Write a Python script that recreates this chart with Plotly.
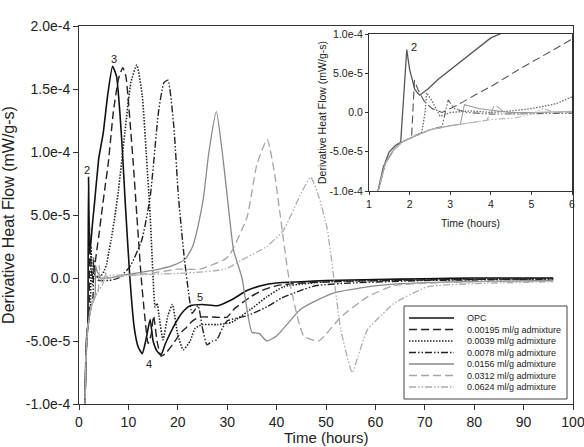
import plotly.graph_objects as go

# ---------------- data (values in units of 1e-4 mW/g-s) ----------------
series_names = ["OPC", "0.00195 ml/g admixture", "0.0039 ml/g admixture",
                "0.0078 ml/g admixture", "0.0156 ml/g admixture",
                "0.0312 ml/g admixture", "0.0624 ml/g admixture"]

opc_t = [1.2, 1.35, 1.5, 1.65, 1.78, 1.86, 1.93, 2.0, 2.13, 2.25, 2.45, 2.7, 2.9, 3.2, 3.5, 3.75, 4.0,
         4.9, 5.8, 6.8, 7.6, 8.3, 8.8, 9.3, 10.3, 11.2, 12.0, 12.8, 13.5, 14.4, 15.0, 15.8, 16.6,
         17.5, 19.5, 21.0, 22.5, 25.0, 28.0, 31.0, 34.0, 37.0, 40.0, 45.0, 50.0, 60.0, 70.0, 80.0, 96.0]
opc_v = [-1.05, -0.7, -0.5, -0.42, -0.38, 0.2, 0.8, 0.55, 0.29, 0.22, 0.3, 0.42, 0.5, 0.62, 0.75, 0.85, 0.95,
         1.15, 1.45, 1.68, 1.6, 1.3, 1.0, 0.64, 0.0, -0.4, -0.55, -0.6, -0.5, -0.33, -0.5, -0.58, -0.61,
         -0.52, -0.36, -0.27, -0.22, -0.21, -0.22, -0.17, -0.1, -0.06, -0.04, -0.03, -0.02, -0.012, -0.006, 0.0, 0.0]

a1_t = [1.2, 1.4, 1.6, 1.8, 2.0, 2.05, 2.12, 2.2, 2.35, 2.55, 2.8, 3.2, 3.6, 4.0, 4.6, 5.2, 5.95,
        6.96, 8.0, 8.86, 9.5, 10.0, 11.0, 11.7, 12.6, 13.3, 14.0, 14.6, 15.1, 15.8, 16.6, 17.5, 19.1,
        20.5, 21.8, 23.0, 24.5, 27.0, 30.0, 31.3, 34.7, 37.0, 40.1, 45.0, 55.0, 70.0, 96.0]
a1_v = [-1.05, -0.65, -0.48, -0.38, -0.33, -0.3, 0.41, 0.3, 0.15, 0.05, 0.0, 0.1, 0.22, 0.33, 0.52, 0.7, 0.92,
        1.32, 1.58, 1.67, 1.6, 1.4, 0.9, 0.5, 0.0, -0.3, -0.52, -0.45, -0.3, -0.5, -0.62, -0.6, -0.52,
        -0.44, -0.39, -0.34, -0.31, -0.31, -0.31, -0.25, -0.15, -0.1, -0.06, -0.04, -0.025, -0.015, -0.005]

a2_t = [1.2, 1.4, 1.6, 1.8, 2.0, 2.3, 2.38, 2.42, 2.55, 2.75, 3.0, 3.5, 4.0, 4.5, 5.0, 5.6, 6.0,
        6.5, 7.3, 8.0, 9.3, 10.5, 11.7, 12.8, 13.6, 14.4, 15.0, 15.4, 15.8, 16.2, 17.0, 18.0, 18.9,
        20.0, 21.1, 22.5, 23.5, 25.0, 28.0, 30.0, 31.0, 34.7, 38.0, 41.4, 50.0, 70.0, 96.0]
a2_v = [-1.05, -0.65, -0.48, -0.38, -0.33, -0.25, 0.0, 0.25, 0.15, -0.05, 0.0, 0.02, 0.0, 0.02, 0.05, 0.11, 0.2,
        0.3, 0.5, 0.7, 1.16, 1.55, 1.69, 1.45, 1.0, 0.5, 0.0, -0.23, -0.2, -0.3, -0.49, -0.3, -0.21,
        -0.45, -0.57, -0.5, -0.4, -0.37, -0.37, -0.36, -0.35, -0.25, -0.15, -0.07, -0.03, -0.015, -0.005]

a3_t = [1.2, 1.4, 1.6, 1.8, 2.0, 2.5, 2.8, 2.95, 3.1, 3.4, 4.0, 5.0, 6.0, 8.0, 10.3, 12.7, 14.4,
        16.1, 17.2, 18.0, 19.2, 20.1, 21.2, 22.2, 22.9, 24.1, 25.0, 25.9, 27.0, 27.9, 29.0, 30.0,
        34.0, 38.0, 41.0, 44.8, 48.0, 55.0, 70.0, 96.0]
a3_v = [-1.05, -0.65, -0.48, -0.38, -0.33, -0.22, -0.18, 0.16, 0.05, 0.0, -0.02, -0.02, -0.02, 0.0, 0.09, 0.3, 0.64,
        1.32, 1.55, 1.57, 1.2, 0.66, 0.2, -0.12, -0.28, -0.22, -0.4, -0.53, -0.5, -0.49, -0.4, -0.34,
        -0.3, -0.23, -0.16, -0.1, -0.06, -0.04, -0.02, -0.01]

a4_t = [1.2, 1.4, 1.6, 1.8, 2.0, 2.5, 3.0, 3.25, 3.35, 3.5, 3.7, 4.0, 4.5, 5.0, 6.0, 10.0, 15.0,
        19.0, 21.5, 23.0, 24.2, 25.2, 26.3, 27.8, 29.0, 30.0, 31.3, 33.0, 35.0, 36.5, 38.0, 40.0,
        42.5, 44.8, 48.0, 51.5, 58.4, 65.0, 75.0, 96.0]
a4_v = [-1.05, -0.65, -0.48, -0.38, -0.33, -0.22, -0.17, -0.15, 0.1, 0.08, 0.05, 0.03, 0.0, 0.0, 0.0, 0.03, 0.06,
        0.1, 0.15, 0.25, 0.43, 0.64, 1.0, 1.32, 1.0, 0.65, 0.22, 0.0, -0.43, -0.44, -0.5, -0.46,
        -0.35, -0.25, -0.18, -0.12, -0.07, -0.045, -0.03, -0.02]

a5_t = [1.2, 1.4, 1.6, 1.8, 2.0, 2.5, 3.0, 3.5, 3.9, 4.1, 4.3, 4.6, 5.0, 6.0, 10.0, 15.0, 20.0,
        24.5, 29.6, 30.6, 34.0, 36.0, 38.1, 39.5, 40.8, 42.5, 45.5, 48.5, 53.0, 58.4, 63.7, 71.0,
        80.0, 96.0]
a5_v = [-1.05, -0.65, -0.48, -0.38, -0.33, -0.22, -0.17, -0.13, -0.1, 0.1, 0.02, -0.03, 0.0, 0.0, 0.02, 0.04, 0.07,
        0.07, 0.15, 0.19, 0.48, 0.9, 1.1, 0.85, 0.48, 0.0, -0.46, -0.5, -0.31, -0.15, -0.06, -0.04,
        -0.03, -0.025]

a6_t = [1.2, 1.4, 1.6, 1.8, 2.0, 2.5, 3.0, 3.5, 4.0, 4.6, 5.0, 5.3, 5.6, 6.0, 10.0, 15.0, 22.0,
        29.6, 33.3, 38.0, 41.4, 44.8, 46.9, 48.5, 50.2, 51.6, 53.0, 55.3, 56.5, 58.4, 62.4, 63.8,
        70.5, 80.0, 96.0]
a6_v = [-1.05, -0.65, -0.48, -0.38, -0.33, -0.22, -0.17, -0.13, -0.09, -0.07, -0.02, 0.05, 0.0, 0.02, 0.02, 0.03, 0.04,
        0.07, 0.15, 0.25, 0.38, 0.66, 0.8, 0.65, 0.4, 0.0, -0.41, -0.75, -0.62, -0.41, -0.25, -0.2,
        -0.07, -0.045, -0.03]

series_t = [opc_t, a1_t, a2_t, a3_t, a4_t, a5_t, a6_t]
series_v = [opc_v, a1_v, a2_v, a3_v, a4_v, a5_v, a6_v]

main_xticks = list(range(0, 101, 10))
main_yticks = [-1e-4, -5e-5, 0.0, 5e-5, 1e-4, 1.5e-4, 2e-4]
main_ytext = ["-1.0e-4", "-5.0e-5", "0.0", "5.0e-5", "1.0e-4", "1.5e-4", "2.0e-4"]
inset_xticks = [1, 2, 3, 4, 5, 6]
inset_yticks = [-1e-4, -5e-5, 0.0, 5e-5, 1e-4]
inset_ytext = ["-1.0e-4", "-5.0e-5", "0.0", "5.0e-5", "1.0e-4"]

peak_labels = [("2", 1.6, 0.86), ("3", 7.1, 1.74), ("4", 14.1, -0.68), ("5", 24.5, -0.15)]
inset_label = ("2", 2.1, 0.84)

# ---------------- styles ----------------
colors = ["#111111", "#222222", "#222222", "#222222", "#8a8a8a", "#a6a6a6", "#adadad"]
inset_colors = ["#555555", "#555555", "#666666", "#666666", "#999999", "#aaaaaa", "#b3b3b3"]
dashes = ["solid", "8px,4px", "1.5px,1.5px", "7px,2px,1.5px,2px,1.5px,2px",
          "solid", "8px,4px", "7px,2px,1.5px,2px,1.5px,2px"]
widths = [1.6, 1.4, 1.6, 1.4, 1.3, 1.3, 1.3]

FONT = "Liberation Sans, Arial, sans-serif"
W, H = 584, 447
ML, MR, MT, MB = 79, 11, 26, 43
PW, PH = W - ML - MR, H - MT - MB


def px(x):
    return (x - ML) / PW


def py(y):
    return (H - MB - y) / PH


fig = go.Figure()
for name, t, v, c, d, w in zip(series_names, series_t, series_v, colors, dashes, widths):
    yv = [val * 1e-4 for val in v]
    fig.add_trace(go.Scatter(x=t, y=yv, mode="lines", name=name, showlegend=False,
                             line=dict(color=c, dash=d, width=w, shape="spline", smoothing=0.5),
                             xaxis="x", yaxis="y"))
for name, t, v, c, d, w in zip(series_names, series_t, series_v, inset_colors, dashes, widths):
    yv = [val * 1e-4 for val in v]
    fig.add_trace(go.Scatter(x=t, y=yv, mode="lines", name=name, showlegend=False,
                             line=dict(color=c, dash=d, width=w * 0.8),
                             xaxis="x2", yaxis="y2"))

axis_common = dict(showgrid=False, zeroline=False, showline=True, linecolor="#333333",
                   linewidth=1, mirror=True, ticks="outside", tickcolor="#333333")

fig.update_layout(
    width=W, height=H,
    margin=dict(l=ML, r=MR, t=MT, b=MB, autoexpand=False),
    paper_bgcolor="white", plot_bgcolor="white",
    font=dict(family=FONT, color="#222222"),
    xaxis=dict(domain=[0, 1], range=[0, 100], tickvals=main_xticks, ticklen=5,
               tickfont=dict(size=14), ticklabeloverflow="allow", automargin=False,
               anchor="y", **axis_common),
    yaxis=dict(domain=[0, 1], range=[-1e-4, 2e-4], tickvals=main_yticks, ticktext=main_ytext,
               ticklen=5, tickfont=dict(size=14), automargin=False,
               title=dict(text="Derivative Heat Flow (mW/g-s)", font=dict(size=16)),
               anchor="x", **axis_common),
    xaxis2=dict(domain=[px(369), px(572)], range=[1, 6], tickvals=inset_xticks, ticklen=3,
                tickfont=dict(size=10.5), title=dict(text="Time (hours)", font=dict(size=10.5), standoff=11),
                anchor="y2", **axis_common),
    yaxis2=dict(domain=[py(191), py(34)], range=[-1e-4, 1e-4], tickvals=inset_yticks, ticktext=inset_ytext,
                ticklen=3, tickfont=dict(size=10.5),
                title=dict(text="Derivative Heat Flow (mW/g-s)", font=dict(size=10.5), standoff=0),
                anchor="x2", **axis_common),
)

# main x-axis title (sits at the very bottom edge, as in the source figure)
fig.add_annotation(xref="paper", yref="paper", x=0.5, y=py(447), text="Time (hours)", showarrow=False,
                   xanchor="center", yanchor="bottom", borderpad=0, font=dict(size=15, color="#222222"))

# peak labels
for txt, t, v in peak_labels:
    fig.add_annotation(x=t, y=v * 1e-4, xref="x", yref="y", text=txt, showarrow=False,
                       font=dict(size=11, color="#222222"))
fig.add_annotation(x=inset_label[1], y=inset_label[2] * 1e-4, xref="x2", yref="y2",
                   text=inset_label[0], showarrow=False, font=dict(size=11, color="#222222"))

# custom legend box
fig.add_shape(type="rect", xref="paper", yref="paper", x0=px(404), x1=px(567), y0=py(399), y1=py(306),
              line=dict(color="#444444", width=1), fillcolor="white", layer="above")
row_y = [318, 329.5, 341, 352.5, 364, 375.5, 387]
for name, c, d, w, ry in zip(series_names, colors, dashes, widths, row_y):
    fig.add_shape(type="line", xref="paper", yref="paper", x0=px(409), x1=px(454), y0=py(ry), y1=py(ry),
                  line=dict(color=c, dash=d, width=w), layer="above")
    fig.add_annotation(xref="paper", yref="paper", x=px(465), y=py(ry), text=name, showarrow=False,
                       xanchor="left", yanchor="middle", font=dict(size=9, color="#222222"))

fig.write_html("out.html")
